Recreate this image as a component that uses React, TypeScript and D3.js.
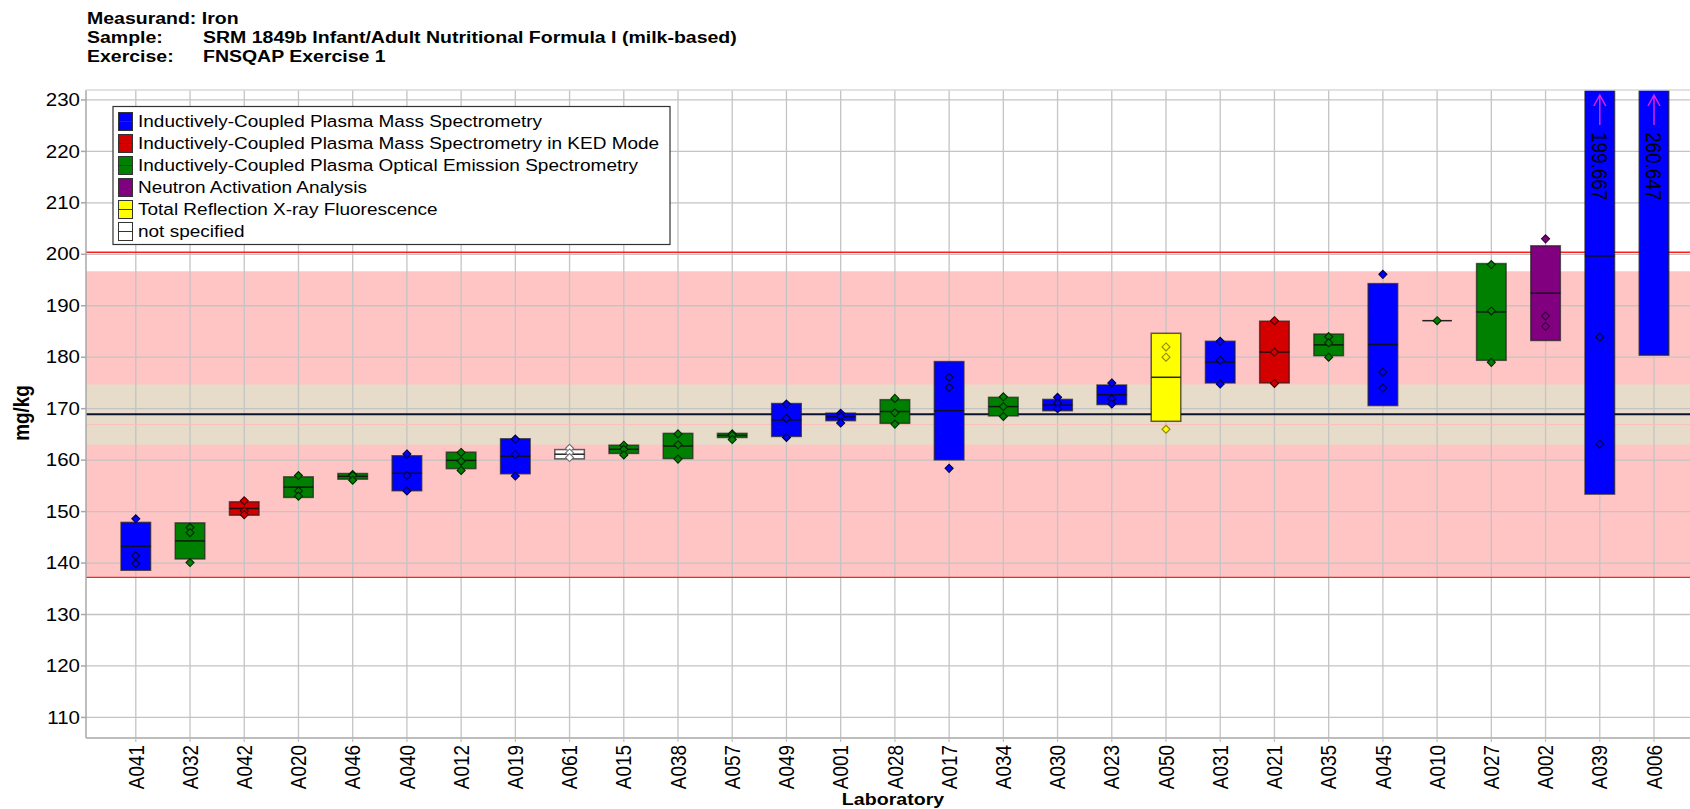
import React from 'react';
import * as d3 from 'd3';

// ---------- data ----------
const labs = ['A041','A032','A042','A020','A046','A040','A012','A019','A061','A015','A038','A057','A049','A001','A028','A017','A034','A030','A023','A050','A031','A021','A035','A045','A010','A027','A002','A039','A006'];
const labMethod = [0,2,1,2,2,0,2,0,5,2,2,2,0,0,2,0,2,0,0,4,0,1,2,0,2,2,3,0,0];
const labMeans = [143.25,144.3,150.6,154.75,156.85,157.45,159.95,160.75,161.15,162.1,162.75,164.8,167.8,168.4,169.45,169.6,170.4,170.7,172.7,176.1,179.05,181.0,182.4,182.45,187.1,188.8,192.45,199.667,260.647];
const labSDs = [4.65,3.5,1.3,2.0,0.55,3.4,1.6,3.4,0.9,0.8,2.45,0.4,3.2,0.73,2.3,9.55,1.8,1.1,1.9,8.55,4.05,6.0,2.1,11.85,0,9.4,9.2,46.27,80.25];
const labReplicates = [
  [148.6,141.4,139.9],[146.9,145.9,140.1],[152.1,150.1,149.4],[157.0,154.0,153.0],[157.2,157.0,156.1],
  [161.2,157.0,154.0],[161.5,159.8,158.0],[164.1,161.1,156.9],[162.3,161.4,160.5],[162.9,162.1,161.0],
  [165.1,163.0,160.2],[165.1,164.8,164.0],[170.9,168.1,164.4],[169.1,168.5,167.2],[172.0,169.2,167.0],
  [176.1,174.1,158.4],[172.3,170.4,168.5],[172.2,171.1,170.0],[175.0,171.9,170.9],[182.0,180.0,166.0],
  [183.1,179.4,174.8],[187.1,181.0,174.9],[184.0,182.8,180.0],[196.1,177.1,174.0],[187.1],
  [198.0,189.0,179.0],[203.0,188.0,186.0],[252.0,183.9,163.1],[]
];
const methodNames = [
  'Inductively-Coupled Plasma Mass Spectrometry',
  'Inductively-Coupled Plasma Mass Spectrometry in KED Mode',
  'Inductively-Coupled Plasma Optical Emission Spectrometry',
  'Neutron Activation Analysis',
  'Total Reflection X-ray Fluorescence',
  'not specified',
];
const methodColors = ['#0000ff','#d40000','#008000','#800080','#ffff00','#ffffff'];
const methodStrokes = ['#000040','#400000','#002800','#300030','#908800','#707070'];
const yTicks = [110,120,130,140,150,160,170,180,190,200,210,220,230];
const titleLabels = ['Sample:','Exercise:'];
const titleValues = ['SRM 1849b Infant/Adult Nutritional Formula I (milk-based)','FNSQAP Exercise 1'];
const titleFirst = 'Measurand: Iron';
const consensusValue = 168.9;
const innerBand = [163.0, 174.7];
const outerBand = [137.2, 196.7];
const limitLines = [137.2, 200.4];
const faintLine = 166.9;
const yDomain = [106, 231.93];
const yLabel = 'mg/kg';
const xLabel = 'Laboratory';

// ---------- layout ----------
const W = 1690, H = 809;
const PL = 86, PR = 1690, PT = 90, PB = 738;
const FONT = '"Liberation Sans", Arial, sans-serif';
const SQ = 0.86;

function SText(props: any) {
  const { x, y, rot = 0, size, bold, anchor = 'start', children, fill = '#000', dy = '0.35em' } = props;
  return (
    <text
      transform={`translate(${x},${y}) scale(1,${SQ}) rotate(${rot})`}
      fontFamily={FONT}
      fontSize={size}
      fontWeight={bold ? 'bold' : 'normal'}
      textAnchor={anchor}
      dy={dy}
      fill={fill}
    >
      {children}
    </text>
  );
}

export default function App() {
  const x = d3.scalePoint<string>().domain(labs).range([135.8, 1654]);
  const y = d3.scaleLinear().domain(yDomain).range([PB, PT]);
  const bw = x.step() * 0.545;
  const fmt = d3.format('.3f');

  return (
    <svg width={W} height={H} style={{ position: 'absolute', left: 0, top: 0, background: '#fff' }}>
      <defs>
        <clipPath id="plot"><rect x={PL} y={PT} width={PR - PL} height={PB - PT} /></clipPath>
      </defs>
      {/* title */}
      <SText x={87} y={18.5} size={19.5} bold>{titleFirst}</SText>
      {titleLabels.map((t, i) => (
        <g key={t}>
          <SText x={87} y={37.5 + i * 18.5} size={19.5} bold>{t}</SText>
          <SText x={203} y={37.5 + i * 18.5} size={19.5} bold>{titleValues[i]}</SText>
        </g>
      ))}

      <g clipPath="url(#plot)">
        {/* bands */}
        <rect x={PL} width={PR - PL} y={y(outerBand[1])} height={y(outerBand[0]) - y(outerBand[1])} fill="#ffc4c4" />
        <rect x={PL} width={PR - PL} y={y(innerBand[1])} height={y(innerBand[0]) - y(innerBand[1])} fill="#e6dcc9" />
        {/* grid */}
        {yTicks.map(t => (
          <line key={t} x1={PL} x2={PR} y1={y(t)} y2={y(t)} stroke="#c4c4c4" strokeWidth={1.3} />
        ))}
        {labs.map(l => (
          <line key={l} x1={x(l)} x2={x(l)} y1={PT} y2={PB} stroke="#c4c4c4" strokeWidth={1.3} />
        ))}
        <line x1={PL} x2={PR} y1={y(faintLine)} y2={y(faintLine)} stroke="#ffbcbc" strokeWidth={1} />
        {limitLines.map(v => (
          <line key={v} x1={PL} x2={PR} y1={y(v)} y2={y(v)} stroke="#ff2020" strokeWidth={1.3} />
        ))}
        <line x1={PL} x2={PR} y1={y(consensusValue)} y2={y(consensusValue)} stroke="#0a1430" strokeWidth={2} />

        {/* boxes */}
        {labs.map((l, i) => {
          const cx = x(l) as number;
          const m = labMeans[i], s = labSDs[i];
          const top = y(m + s), bot = y(m - s);
          const col = methodColors[labMethod[i]];
          const sc = methodStrokes[labMethod[i]];
          const off = m + s > yDomain[1];
          return (
            <g key={l}>
              <rect x={cx - bw / 2} y={Math.max(top, PT - 5)} width={bw} height={bot - Math.max(top, PT - 5)}
                fill={col} stroke="#202020" strokeOpacity={0.7} strokeWidth={1.5} />
              <line x1={cx - bw / 2} x2={cx + bw / 2} y1={y(m)} y2={y(m)} stroke="#101010" strokeOpacity={0.9} strokeWidth={1.5} />
              {labReplicates[i].map((v, j) => (
                <path key={j} d={`M${cx},${y(v) - 4}L${cx + 4},${y(v)}L${cx},${y(v) + 4}L${cx - 4},${y(v)}Z`}
                  fill={col} stroke={sc} strokeWidth={1.1} />
              ))}
              {off && (
                <g>
                  <path d={`M${cx},${PT + 5}L${cx},${PT + 35}M${cx - 6},${PT + 16}L${cx},${PT + 5}L${cx + 6},${PT + 16}`}
                    fill="none" stroke="#e020e0" strokeWidth={1.5} />
                  <SText x={cx} y={PT + 42} rot={90} size={22} dy="0.35em">{fmt(m)}</SText>
                </g>
              )}
            </g>
          );
        })}
      </g>

      {/* axes */}
      <line x1={PL} x2={PL} y1={PT} y2={PB} stroke="#a8a8a8" strokeWidth={1.5} />
      <line x1={PL} x2={PR} y1={PB} y2={PB} stroke="#a8a8a8" strokeWidth={1.5} />
      <line x1={PL} x2={PR} y1={PT} y2={PT} stroke="#d8d8d8" strokeWidth={1.5} />
      {yTicks.map(t => (
        <g key={t}>
          <line x1={PL - 5} x2={PL} y1={y(t)} y2={y(t)} stroke="#a8a8a8" strokeWidth={1.5} />
          <SText x={80} y={y(t)} size={20.5} anchor="end">{t}</SText>
        </g>
      ))}
      {labs.map(l => (
        <g key={l}>
          <line x1={x(l)} x2={x(l)} y1={PB} y2={PB + 4} stroke="#c4c4c4" strokeWidth={1.3} />
          <SText x={x(l)} y={745} rot={-90} size={22} anchor="end">{l}</SText>
        </g>
      ))}
      <SText x={21} y={413} rot={-90} size={22} bold anchor="middle">{yLabel}</SText>
      <SText x={893} y={805} size={19.6} bold anchor="middle" dy="0">{xLabel}</SText>

      {/* legend */}
      <rect x={113} y={106.5} width={557} height={138} fill="#fff" stroke="#333" strokeWidth={1.2} />
      {methodNames.map((n, i) => {
        const cy = 121.5 + i * 22;
        return (
          <g key={n}>
            <rect x={118.5} y={cy - 9} width={14} height={18} fill={methodColors[i]} stroke="#333" strokeWidth={1} />
            <line x1={118.5} x2={132.5} y1={cy} y2={cy} stroke="#333" strokeWidth={1} />
            <SText x={138} y={cy} size={19}>{n}</SText>
          </g>
        );
      })}
    </svg>
  );
}
